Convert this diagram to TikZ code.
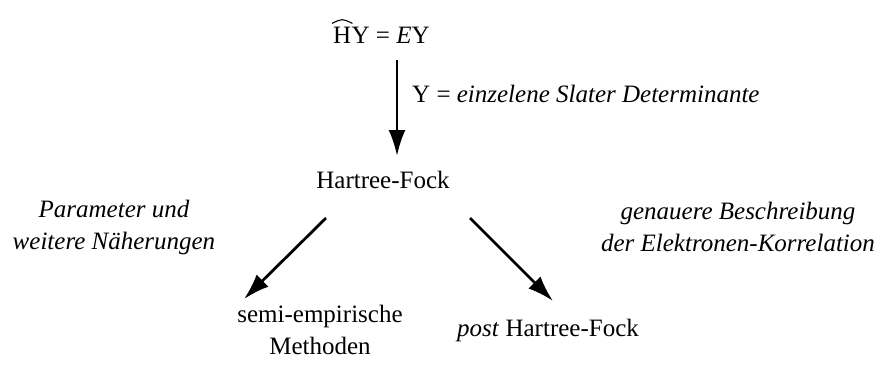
\documentclass[tikz,border=0pt]{standalone}
\usepackage{fontspec}
\setmainfont{Liberation Serif}
\usetikzlibrary{arrows.meta}
\begin{document}
\begin{tikzpicture}[x=1pt,y=1pt,
  txt/.style={inner sep=0pt,font=\fontsize{25}{32}\selectfont,align=center},
  itxt/.style={txt,font=\fontsize{25}{32}\selectfont\itshape},
  arr/.style={line width=2.8pt,-{Latex[length=26pt,width=17pt]}},
  hat/.style={line width=1.1pt,line join=miter}]
\useasboundingbox (0,0) rectangle (881,-378);
\node[txt,anchor=base west] (h) at (333,-43) {H};
\node[txt,anchor=base west] (se) at (h.base east) {Y = \textit{E}Y};
\draw[hat] ([xshift=-1pt,yshift=3pt]h.north west) .. controls ([yshift=8pt]h.north) .. ([xshift=1pt,yshift=3pt]h.north east);
\coordinate (a1) at (397,-60);
\coordinate (a2) at (397,-156);
\draw[arr] (a1) -- (a2);
\node[txt,anchor=base west] (lab) at (412,-102) {Y = \textit{einzelene Slater Determinante}};
\node[txt,anchor=base] (hf) at (383,-188) {Hartree-Fock};
\node[itxt] (pl) at (114,-227) {Parameter und\\weitere Näherungen};
\node[itxt] (pr) at (738,-227) {genauere Beschreibung\\der Elektronen-Korrelation};
\coordinate (l1) at (326,-218);
\coordinate (l2) at (244,-299);
\coordinate (r1) at (470,-218);
\coordinate (r2) at (553,-301);
\draw[arr] (l1) -- (l2);
\draw[arr] (r1) -- (r2);
\node[txt] (sem) at (320,-330) {semi-empirische\\Methoden};
\node[txt,anchor=base] (post) at (548,-336) {\textit{post} Hartree-Fock};
\end{tikzpicture}
\end{document}
